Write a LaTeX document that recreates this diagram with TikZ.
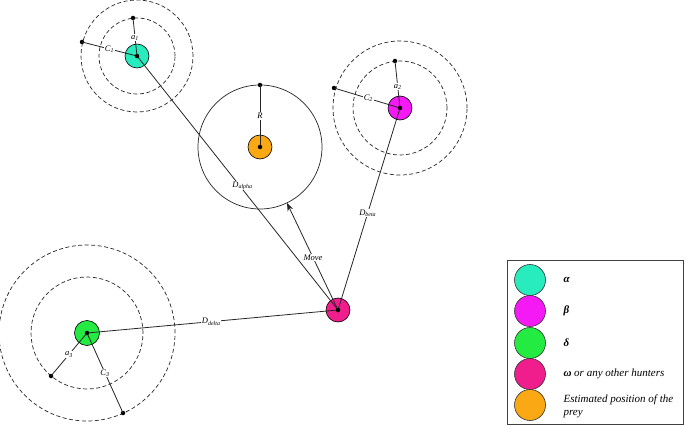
\documentclass[tikz,border=0pt]{standalone}
\usepackage{fontspec}
\setmainfont{Liberation Serif}
\usetikzlibrary{arrows.meta}
\definecolor{alphac}{RGB}{40,235,190}
\definecolor{betac}{RGB}{245,25,245}
\definecolor{deltac}{RGB}{35,235,65}
\definecolor{omegac}{RGB}{240,30,140}
\definecolor{preyc}{RGB}{250,168,20}
\begin{document}
\begin{tikzpicture}[x=1pt,y=-1pt,
  hunter/.style={circle,draw=black,line width=0.6pt,minimum size=24pt,inner sep=0pt},
  legc/.style={circle,draw=black!80,line width=0.6pt,minimum size=31pt,inner sep=0pt},
  dot/.style={circle,fill=black,minimum size=4.5pt,inner sep=0pt},
  ring/.style={draw=black!85,line width=0.7pt,dash pattern=on 4pt off 2.5pt},
  conn/.style={draw=black!85,line width=0.8pt},
  lbl/.style={fill=white,inner sep=0.8pt,font=\fontsize{8.5}{9.5}\selectfont\itshape},
  legt/.style={anchor=west,font=\fontsize{11}{13}\selectfont\itshape,align=left}]
\useasboundingbox (0,0) rectangle (685,425);
% hunters
\node[hunter,fill=alphac] (al) at (137,56) {};
\node[hunter,fill=betac] (be) at (400,108) {};
\node[hunter,fill=deltac,minimum size=25pt] (de) at (87,333) {};
\node[hunter,fill=omegac] (om) at (338,310) {};
\node[hunter,fill=preyc] (pr) at (260,147) {};
% rings
\draw[ring] (al.center) circle[radius=38pt];
\draw[ring] (al.center) circle[radius=56pt];
\draw[ring] (be.center) circle[radius=47pt];
\draw[ring] (be.center) circle[radius=67pt];
\draw[ring] (de.center) circle[radius=56pt];
\draw[ring] (de.center) circle[radius=88pt];
\draw[conn,line width=0.7pt] (pr.center) circle[radius=62pt];
% radius dots
\node[dot] (a1) at (133,18) {};
\node[dot] (c1) at (82,42) {};
\node[dot] (a2) at (395,61) {};
\node[dot] (c2) at (334,88) {};
\node[dot] (a3) at (51,376) {};
\node[dot] (c3) at (123,413) {};
\node[dot] (rr) at (260,85) {};
\coordinate (mv) at (287,203);
% connectors
\draw[conn] (om.center) -- (al.center) node[lbl,pos=0.49,xshift=3pt] {D\textsubscript{alpha}};
\draw[conn] (om.center) -- (be.center) node[lbl,pos=0.48] {D\textsubscript{beta}};
\draw[conn] (om.center) -- (de.center) node[lbl,pos=0.505] {D\textsubscript{delta}};
\draw[conn,-{Stealth[length=8pt,width=6pt]}] (om.center) -- (mv) node[lbl,pos=0.49] {Move};
\draw[conn] (al.center) -- (a1.center) node[lbl,pos=0.48] {a\textsubscript{1}};
\draw[conn] (al.center) -- (c1.center) node[lbl,pos=0.5] {C\textsubscript{1}};
\draw[conn] (be.center) -- (a2.center) node[lbl,pos=0.45] {a\textsubscript{2}};
\draw[conn] (be.center) -- (c2.center) node[lbl,pos=0.48] {C\textsubscript{2}};
\draw[conn] (de.center) -- (a3.center) node[lbl,pos=0.5] {a\textsubscript{3}};
\draw[conn] (de.center) -- (c3.center) node[lbl,pos=0.5] {C\textsubscript{3}};
\draw[conn] (pr.center) -- (rr.center) node[lbl,pos=0.5] {R};
% center dots
\foreach \n in {al,be,de,om,pr} \node[dot] at (\n.center) {};
% legend
\draw[draw=black!75,line width=0.9pt] (507,260) rectangle (683,424);
\node[legc,fill=alphac] (l1) at (530,280) {};
\node[legc,fill=betac] (l2) at (530,311) {};
\node[legc,fill=deltac] (l3) at (530,343) {};
\node[legc,fill=omegac] (l4) at (530,374) {};
\node[legc,fill=preyc] (l5) at (530,405) {};
\node[legt] (t1) at (560,280) {\bfseries α};
\node[legt] (t2) at (560,311) {\bfseries β};
\node[legt] (t3) at (560,343) {\bfseries δ};
\node[legt] (t4) at (560,374) {\textbf{ω} or any other hunters};
\node[legt] (t5) at (560,406) {Estimated position of the\\prey};
\end{tikzpicture}
\end{document}
